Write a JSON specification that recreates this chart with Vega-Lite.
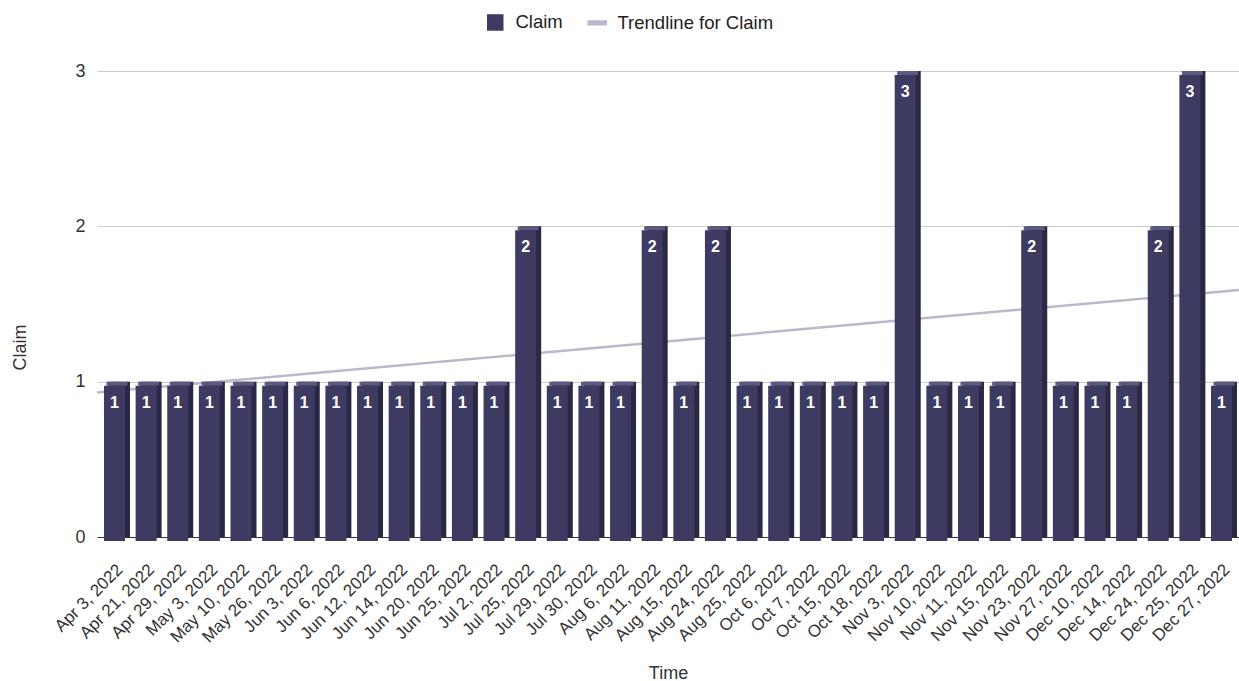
{
  "$schema": "https://vega.github.io/schema/vega-lite/v6.json",
  "width": 1142,
  "height": 466,
  "autosize": {"type": "none"},
  "padding": {"left": 97, "top": 71, "right": 0, "bottom": 144},
  "background": "white",
  "config": {
    "font": "Liberation Sans",
    "view": {"stroke": null},
    "axis": {"labelFont": "Liberation Sans", "titleFont": "Liberation Sans", "labelColor": "#333333", "titleColor": "#333333", "titleFontWeight": "normal"},
    "legend": {"labelFont": "Liberation Sans"}
  },
  "datasets": {
    "claims": [
      {"date": "Apr 3, 2022", "claim": 1},
      {"date": "Apr 21, 2022", "claim": 1},
      {"date": "Apr 29, 2022", "claim": 1},
      {"date": "May 3, 2022", "claim": 1},
      {"date": "May 10, 2022", "claim": 1},
      {"date": "May 26, 2022", "claim": 1},
      {"date": "Jun 3, 2022", "claim": 1},
      {"date": "Jun 6, 2022", "claim": 1},
      {"date": "Jun 12, 2022", "claim": 1},
      {"date": "Jun 14, 2022", "claim": 1},
      {"date": "Jun 20, 2022", "claim": 1},
      {"date": "Jun 25, 2022", "claim": 1},
      {"date": "Jul 2, 2022", "claim": 1},
      {"date": "Jul 25, 2022", "claim": 2},
      {"date": "Jul 29, 2022", "claim": 1},
      {"date": "Jul 30, 2022", "claim": 1},
      {"date": "Aug 6, 2022", "claim": 1},
      {"date": "Aug 11, 2022", "claim": 2},
      {"date": "Aug 15, 2022", "claim": 1},
      {"date": "Aug 24, 2022", "claim": 2},
      {"date": "Aug 25, 2022", "claim": 1},
      {"date": "Oct 6, 2022", "claim": 1},
      {"date": "Oct 7, 2022", "claim": 1},
      {"date": "Oct 15, 2022", "claim": 1},
      {"date": "Oct 18, 2022", "claim": 1},
      {"date": "Nov 3, 2022", "claim": 3},
      {"date": "Nov 10, 2022", "claim": 1},
      {"date": "Nov 11, 2022", "claim": 1},
      {"date": "Nov 15, 2022", "claim": 1},
      {"date": "Nov 23, 2022", "claim": 2},
      {"date": "Nov 27, 2022", "claim": 1},
      {"date": "Dec 10, 2022", "claim": 1},
      {"date": "Dec 14, 2022", "claim": 1},
      {"date": "Dec 24, 2022", "claim": 2},
      {"date": "Dec 25, 2022", "claim": 3},
      {"date": "Dec 27, 2022", "claim": 1}
    ],
    "trend": [
      {"t": 0, "trend": 0.93},
      {"t": 1, "trend": 1.59}
    ]
  },
  "layer": [
    {
      "data": {"name": "trend"},
      "mark": {"type": "line", "strokeWidth": 2.5},
      "encoding": {
        "x": {"field": "t", "type": "quantitative", "scale": {"domain": [0, 1], "nice": false, "zero": false}, "axis": null},
        "y": {
          "field": "trend", "type": "quantitative",
          "scale": {"domain": [0, 3], "nice": false},
          "axis": {
            "title": "Claim", "titleFontSize": 18, "titleX": -72, "titleY": 276, "titleBaseline": "alphabetic",
            "values": [0, 1, 2, 3], "format": "d", "labelFontSize": 18, "labelPadding": 12,
            "ticks": false, "domain": false, "gridColor": "#cccccc", "gridWidth": 1
          }
        },
        "color": {
          "datum": "Trendline for Claim",
          "scale": {"domain": ["Claim", "Trendline for Claim"], "range": ["#3d3b62", "#bab8cc"]},
          "legend": {
            "title": null, "orient": "none", "direction": "horizontal",
            "legendX": 389, "legendY": -58,
            "labelFontSize": 18.5, "labelColor": "#222222", "labelOffset": 11,
            "columnPadding": 22, "symbolSize": 225,
            "encode": {
              "symbols": {
                "update": {
                  "shape": {"signal": "datum.value === 'Claim' ? 'square' : 'M-1.2,-0.25H1.2V0.25H-1.2Z'"},
                  "fill": {"signal": "datum.value === 'Claim' ? '#3d3b62' : '#bab8cc'"},
                  "stroke": {"value": "transparent"},
                  "opacity": {"value": 1}
                }
              }
            }
          }
        }
      }
    },
    {
      "data": {"name": "claims"},
      "layer": [
        {
          "mark": {"type": "bar", "color": "#2a2944", "xOffset": 5, "yOffset": 0, "y2Offset": 2},
          "encoding": {
            "x": {
              "field": "date", "type": "nominal", "sort": null,
              "scale": {"paddingInner": 0.336, "paddingOuter": 0.221},
              "axis": {
                "title": "Time", "titleFontSize": 18, "titleY": 141, "titleBaseline": "alphabetic",
                "labelAngle": -45, "labelAlign": "right", "labelBaseline": "top", "labelFontSize": 17,
                "labelPadding": 24, "ticks": false, "domainColor": "#333333", "grid": false
              }
            },
            "y": {"field": "claim", "type": "quantitative"}
          }
        },
        {
          "mark": {"type": "bar", "color": "#5b5a7e", "xOffset": 2.5, "yOffset": 0, "y2Offset": 4},
          "encoding": {
            "x": {"field": "date", "type": "nominal", "sort": null},
            "y": {"field": "claim", "type": "quantitative"},
            "y2": {"field": "claim"}
          }
        },
        {
          "mark": {"type": "bar", "yOffset": 4, "y2Offset": 4},
          "encoding": {
            "x": {"field": "date", "type": "nominal", "sort": null},
            "y": {"field": "claim", "type": "quantitative"},
            "color": {"datum": "Claim"}
          }
        },
        {
          "mark": {"type": "text", "color": "white", "fontWeight": "bold", "fontSize": 16, "baseline": "middle", "dy": 21},
          "encoding": {
            "x": {"field": "date", "type": "nominal", "sort": null},
            "y": {"field": "claim", "type": "quantitative"},
            "text": {"field": "claim", "type": "quantitative", "format": "d"}
          }
        }
      ]
    }
  ],
  "resolve": {"scale": {"x": "independent"}}
}
